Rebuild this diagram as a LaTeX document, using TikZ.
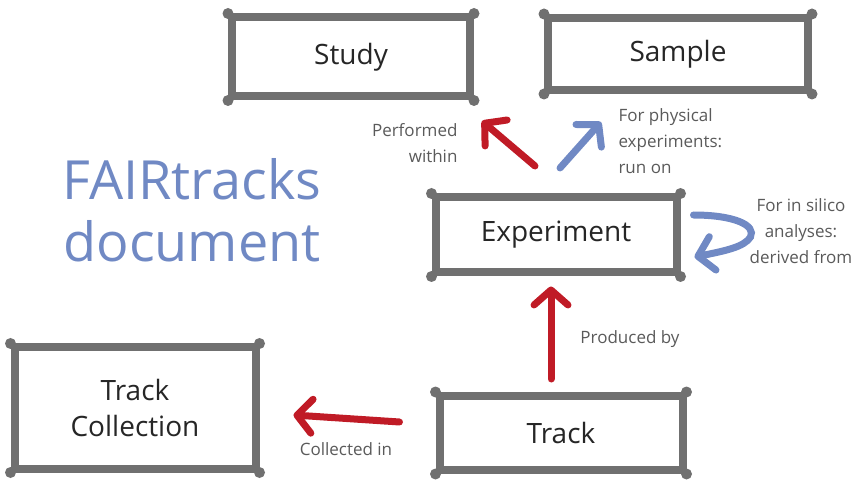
\documentclass[tikz,border=0pt]{standalone}
\usepackage{fontspec}
\setmainfont{Open Sans}
\usetikzlibrary{arrows.meta,calc}
\definecolor{boxgray}{HTML}{707070}
\definecolor{linkred}{HTML}{C01B26}
\definecolor{linkblue}{HTML}{7089C4}
\definecolor{labelgray}{HTML}{5A5A5A}
\tikzset{
	entity/.style={draw=boxgray, line width=8pt, fill=white, text=black!85, font=\fontsize{28}{36}\selectfont, align=center},
	redlink/.style={draw=linkred, line width=7pt, line cap=round, -{Straight Barb[length=15pt,width=34pt,round]}},
	bluelink/.style={draw=linkblue, line width=7pt, line cap=round, -{Straight Barb[length=15pt,width=34pt,round]}},
	linklabel/.style={text=labelgray, font=\fontsize{17}{26}\selectfont}
}

\begin{document}
\begin{tikzpicture}[x=1pt,y=1pt]
		%%%%% START %%%%%
		\useasboundingbox (0,0) rectangle (855,480);
		
		\node[entity, minimum width=238, minimum height=79] (study) at (351,423) {Study};
		\node[entity, minimum width=260, minimum height=72] (sample) at (678,426) {Sample};
		\node[entity, minimum width=241, minimum height=75] (exp) at (556,245) {Experiment};
		\node[entity, minimum width=241, minimum height=121] (coll) at (135,72) {Track\\Collection};
		\node[entity, minimum width=243, minimum height=74] (track) at (561,47) {Track};
		
		% corner blobs
		\foreach \n in {study,sample,exp,coll,track}
			\foreach \a in {north west,north east,south west,south east}
				\fill[boxgray] (\n.\a) circle (5.5);
		
		\node[text=linkblue, font=\fontsize{54}{62}\selectfont, align=center] (title) at (192,270) {FAIRtracks\\document};
		
		\draw[redlink] ($(exp.north)+(-21,27.5)$) -- ($(study.south east)+(8,-20.5)$);
		\draw[bluelink] ($(exp.north)+(4,25.5)$) -- ($(sample.south west)+(57,-28)$);
		\coordinate (looptip) at ($(exp.east)+(70,-2)$);
		\draw[bluelink] ($(exp.east)+(13,20)$) .. controls +(40,0) and +(6,12) .. (looptip) .. controls +(-6,-10) and +(30,6) .. ($(exp.east)+(14,-22)$);
		\draw[redlink] ($(track.north)+(-10,13)$) -- ($(exp.south)+(-5,-10)$);
		\draw[redlink] ($(track.west)+(-36,11)$) -- ($(coll.east)+(34,-7)$);
		
		\node[linklabel, align=right, anchor=east] (within) at (461,337) {Performed\\within};
		\node[linklabel, align=left, anchor=west] (runon) at (615,339) {For physical\\experiments:\\run on};
		\node[linklabel, align=center] (derived) at (801,249) {For in silico\\analyses:\\derived from};
		\node[linklabel] (producedby) at (630,141) {Produced by};
		\node[linklabel] (collectedin) at (346,31) {Collected in};
		%%%%% END %%%%%
	\end{tikzpicture}
\end{document}
